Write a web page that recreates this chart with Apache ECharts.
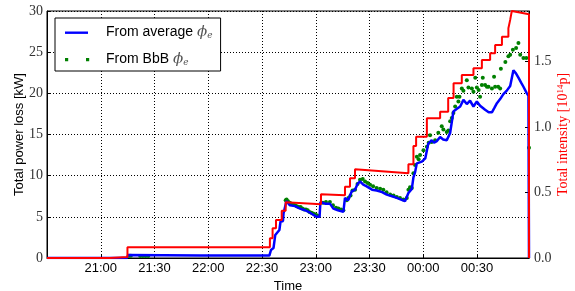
<!DOCTYPE html>
<html>
<head>
<meta charset="utf-8">
<script src="https://cdn.jsdelivr.net/npm/echarts@6/dist/echarts.min.js"></script>
<style>
  html, body { margin: 0; padding: 0; background: #fff; }
  #myChart { width: 575px; height: 291px; }
</style>
</head>
<body>
<div id="myChart"></div>
<script>
// time is in minutes from midnight of the first evening (values > 1440 are after 00:00)
var xMin = 1230;   // 20:30
var xMax = 1499;   // ~00:59
var xStep = 30;

// total power loss from the average phi_e [kW]
var avgTimes = [1230, 1274.5, 1275.3, 1315.3, 1354.1, 1355, 1356.4, 1357.4, 1359.7, 1360.3,
  1361.7, 1362, 1363.1, 1363.6, 1365.6, 1368.4, 1371.2, 1374, 1376.8, 1380.5,
  1382.1, 1382.6, 1385.1, 1387.9, 1389.8, 1392.4, 1395.4, 1396.3, 1398, 1399.1,
  1400.1, 1401.9, 1403.3, 1404.7, 1406.5, 1408.4, 1411.4, 1414, 1417, 1419.6,
  1422.6, 1425.2, 1427.6, 1429.8, 1430.7, 1431.7, 1433.6, 1434.5, 1435.4, 1436.4,
  1439.2, 1441.1, 1442.8, 1444.7, 1446, 1447.5, 1449.4, 1451.1, 1453.1, 1455,
  1456.8, 1458.6, 1460.6, 1462.4, 1464.3, 1466.1, 1468, 1469.9, 1471.7, 1474.5,
  1476.5, 1478.3, 1479.6, 1481.1, 1482.9, 1484.7, 1486.5, 1488.5, 1490.3, 1491.8,
  1493.1, 1494.6, 1495.9, 1497.8, 1498.7, 1499];
var avgLoss = [0, 0, 0.36, 0.3, 0.3, 0.97, 1.2, 2.8, 3.4, 4.4,
  4.5, 5.4, 5.6, 6.9, 6.4, 6.3, 6.0, 5.8, 5.5, 5.0,
  5.0, 6.8, 6.6, 6.6, 6.0, 5.8, 5.6, 7.3, 7.0, 7.2,
  8.1, 8.3, 9.0, 9.3, 8.9, 8.7, 8.3, 8.2, 8.0, 7.7,
  7.5, 7.3, 7.1, 6.9, 7.0, 7.9, 8.4, 9.8, 10.4, 11.5,
  11.7, 12.1, 13.9, 14.3, 14.0, 14.2, 14.7, 14.4, 14.3, 15.2,
  17.8, 18.1, 18.4, 19.2, 18.7, 19.1, 18.4, 19.0, 18.5, 18.0,
  17.7, 17.7, 18.2, 18.8, 19.3, 19.9, 20.3, 20.9, 22.8, 22.4,
  21.9, 21.3, 20.8, 20.0, 19.7, 0];

// total power loss from the bunch-by-bunch phi_e [kW]
var bbbTimes = [1275.8, 1276.8, 1282, 1283.5, 1285, 1286.5,
  1363.2, 1363.7, 1364.5, 1365.5, 1366.5, 1367.5, 1368.5, 1369.5, 1370.5, 1371.5,
  1372.5, 1373.5, 1374.5, 1375.5, 1376.5, 1377.5, 1378.5, 1379.5, 1380.5, 1381.5,
  1384.0, 1385.7, 1387.9, 1389.6, 1391.3, 1392.6, 1394.1, 1395.4, 1397.3, 1398.2,
  1399.4, 1400.5, 1401.9, 1403.3, 1404.7, 1406.2, 1407.5, 1408.9, 1410.3, 1412,
  1414, 1415.9, 1417.7, 1419.5, 1421.5, 1423.4, 1425.2, 1427, 1428.9, 1430.8,
  1431.7, 1432.6, 1433.6, 1434.5, 1435.4, 1436.4, 1437.4, 1438.2, 1440.1, 1442,
  1443, 1443.8, 1444.7, 1446.6, 1448.4, 1450.3, 1451.2, 1453.1, 1454, 1455,
  1455.9, 1456.8, 1457.8, 1458.7, 1459.6, 1460.2, 1461.5, 1462.4, 1464.3, 1465.2,
  1467.1, 1468, 1469, 1469.9, 1470.9, 1471.7, 1472.7, 1473.2, 1474.5, 1475.5,
  1476.4, 1478.3, 1479.5, 1480.1, 1481.8, 1482.9, 1483.3, 1485.8, 1487.5, 1488.5,
  1490, 1491.8, 1493.1, 1494.1, 1495.9, 1497.5, 1499];
var bbbLoss = [0.28, 0.28, 0.25, 0.25, 0.25, 0.25,
  7.0, 7.1, 6.9, 6.7, 6.6, 6.5, 6.4, 6.3, 6.2, 6.2,
  6.0, 5.9, 5.9, 5.8, 5.6, 5.5, 5.4, 5.3, 5.2, 5.1,
  6.7, 6.8, 6.8, 6.4, 6.1, 6.0, 5.9, 5.8, 7.0, 7.3,
  7.6, 8.2, 8.3, 9.0, 9.5, 9.6, 9.3, 9.1, 8.9, 8.7,
  8.5, 8.4, 8.3, 8.0, 7.7, 7.6, 7.4, 7.3, 7.1, 7.3,
  8.3, 8.6, 8.5, 10.3, 11.3, 12.3, 12.0, 12.5, 13.1, 13.5,
  14.0, 14.9, 14.1, 14.3, 15.2, 16.0, 15.6, 15.3, 15.5, 16.6,
  17.0, 17.6, 18.4, 19.6, 19.0, 19.6, 20.6, 20.3, 21.6, 20.7,
  20.6, 20.2, 21.9, 20.7, 20.4, 19.6, 21.0, 21.9, 21.0, 20.8,
  20.8, 20.6, 22.0, 20.8, 20.8, 20.6, 23.0, 23.8, 24.5, 24.7,
  25.3, 25.5, 26.1, 24.7, 24.3, 24.3, 13.4];

// total intensity [1e14 p]: level at the start of each step and at its end
var intTimes = [1230, 1265, 1274.9, 1354.4, 1355.9, 1357.8, 1361.0, 1363.2, 1382.9, 1396.3,
  1399.1, 1401.9, 1431.7, 1434.5, 1436.0, 1442.0, 1449.4, 1453.9, 1456.9, 1461.5,
  1468.0, 1472.7, 1477.3, 1480.1, 1483.9, 1487.5, 1488.5, 1489.4, 1499];
var intStart = [0, 0.008, 0.082, 0.150, 0.227, 0.290, 0.361, 0.425, 0.486, 0.544,
  0.608, 0.677, 0.715, 0.855, 0.926, 1.066, 1.117, 1.221, 1.334, 1.397,
  1.448, 1.511, 1.563, 1.626, 1.689, 1.753, 1.817, 1.885, 0];
var intEnd = [0, 0.008, 0.082, 0.150, 0.227, 0.290, 0.361, 0.410, 0.479, 0.544,
  0.608, 0.647, 0.715, 0.855, 0.926, 1.066, 1.117, 1.221, 1.334, 1.397,
  1.448, 1.511, 1.563, 1.626, 1.689, 1.753, 1.817, 1.860, 0];

var seriesNames = ['From average', 'From BbB'];

function clock(v) {
  var m = Math.round(v) % 1440;
  var h = Math.floor(m / 60), mm = m % 60;
  return (h < 10 ? '0' : '') + h + ':' + (mm < 10 ? '0' : '') + mm;
}

function pairs(xs, ys) {
  var out = [];
  for (var i = 0; i < xs.length; i++) out.push([xs[i], ys[i]]);
  return out;
}

var intLine = [];
for (var i = 0; i < intTimes.length - 1; i++) {
  intLine.push([intTimes[i], intStart[i]]);
  intLine.push([intTimes[i + 1], intEnd[i]]);
}
intLine.push([intTimes[intTimes.length - 1], intStart[intStart.length - 1]]);

var sans = 'Liberation Sans';
var serif = 'Liberation Serif';
var dotted = { color: '#000', width: 1, type: [1, 2] };

var myChart = echarts.init(document.getElementById('myChart'));
myChart.setOption({
  animation: false,
  grid: {
    left: 47, right: 46, top: 11, bottom: 33,
    outerBoundsMode: 'none', containLabel: false,
    show: true, borderColor: '#000', borderWidth: 1
  },
  legend: {
    orient: 'vertical',
    left: 55,
    top: 18,
    backgroundColor: '#fff',
    borderColor: '#000',
    borderWidth: 1,
    borderRadius: 0,
    padding: [7, 8, 4, 10],
    itemGap: 12,
    itemWidth: 36,
    itemHeight: 14,
    data: [
      { name: seriesNames[0], icon: 'path://M0,0M36,14M0,6H23V8.4H0Z', itemStyle: { color: '#0000ff', borderWidth: 0 } },
      { name: seriesNames[1], icon: 'path://M0,0M36,14M0,5.5h3.2v3.2h-3.2zM21,5.5h3.2v3.2h-3.2z', itemStyle: { color: '#008000', borderWidth: 0 } }
    ],
    formatter: function (name) { return name + ' {phi|ϕ}{sub|e}'; },
    textStyle: {
      fontFamily: sans, fontSize: 14, color: '#000',
      rich: {
        phi: { fontFamily: 'DejaVu Serif', fontStyle: 'italic', fontSize: 15, color: '#555' },
        sub: { fontFamily: 'DejaVu Serif', fontStyle: 'italic', fontSize: 9, color: '#555', verticalAlign: 'bottom' }
      }
    }
  },
  xAxis: {
    type: 'value',
    min: xMin,
    max: xMax,
    interval: xStep,
    name: 'Time',
    nameLocation: 'middle',
    nameGap: 16,
    nameTextStyle: { fontFamily: sans, fontSize: 13, color: '#000' },
    axisLine: { lineStyle: { color: '#000' } },
    axisTick: { inside: true, length: 4, lineStyle: { color: '#000' } },
    axisLabel: {
      margin: 4, fontFamily: sans, fontSize: 13, color: '#000',
      formatter: function (v) { return (v % xStep === 0 && v > xMin) ? clock(v) : ''; }
    },
    splitLine: { show: true, lineStyle: dotted }
  },
  yAxis: [{
    type: 'value',
    position: 'left',
    min: 0,
    max: 30,
    interval: 5,
    name: 'Total power loss [kW]',
    nameLocation: 'middle',
    nameRotate: 90,
    nameGap: 21,
    nameMoveOverlap: false,
    nameTextStyle: { fontFamily: sans, fontSize: 13, color: '#000' },
    axisLine: { show: true, lineStyle: { color: '#000' } },
    axisTick: { show: true, inside: true, length: 4, lineStyle: { color: '#000' } },
    axisLabel: { margin: 4, fontFamily: serif, fontSize: 14, color: '#333' },
    splitLine: { show: true, lineStyle: dotted }
  }, {
    type: 'value',
    position: 'right',
    min: 0,
    max: 1.885,
    interval: 0.5,
    name: 'Total intensity [10{sup|14}p]',
    nameLocation: 'middle',
    nameRotate: 90,
    nameGap: 27,
    nameMoveOverlap: false,
    nameTextStyle: {
      fontFamily: serif, fontSize: 14, color: '#ff0000',
      rich: { sup: { fontFamily: serif, fontSize: 9, color: '#ff0000', verticalAlign: 'top' } }
    },
    axisLine: { show: true, lineStyle: { color: '#000' } },
    axisTick: { show: true, inside: true, length: 4, lineStyle: { color: '#000' } },
    axisLabel: {
      margin: 5, fontFamily: serif, fontSize: 14, color: '#333', showMaxLabel: false,
      formatter: function (v) { return Math.abs(v * 2 - Math.round(v * 2)) < 1e-6 ? v.toFixed(1) : ''; }
    },
    splitLine: { show: false }
  }],
  series: [{
    name: seriesNames[0],
    type: 'line',
    data: pairs(avgTimes, avgLoss),
    symbol: 'none',
    lineStyle: { color: '#0000ff', width: 2.5 },
    itemStyle: { color: '#0000ff' }
  }, {
    name: seriesNames[1],
    type: 'scatter',
    data: pairs(bbbTimes, bbbLoss),
    symbolSize: 4,
    itemStyle: { color: '#008000', opacity: 1 }
  }, {
    name: 'Total intensity',
    type: 'line',
    yAxisIndex: 1,
    data: intLine,
    symbol: 'none',
    lineStyle: { color: '#ff0000', width: 2 },
    itemStyle: { color: '#ff0000' }
  }]
});
</script>
</body>
</html>
